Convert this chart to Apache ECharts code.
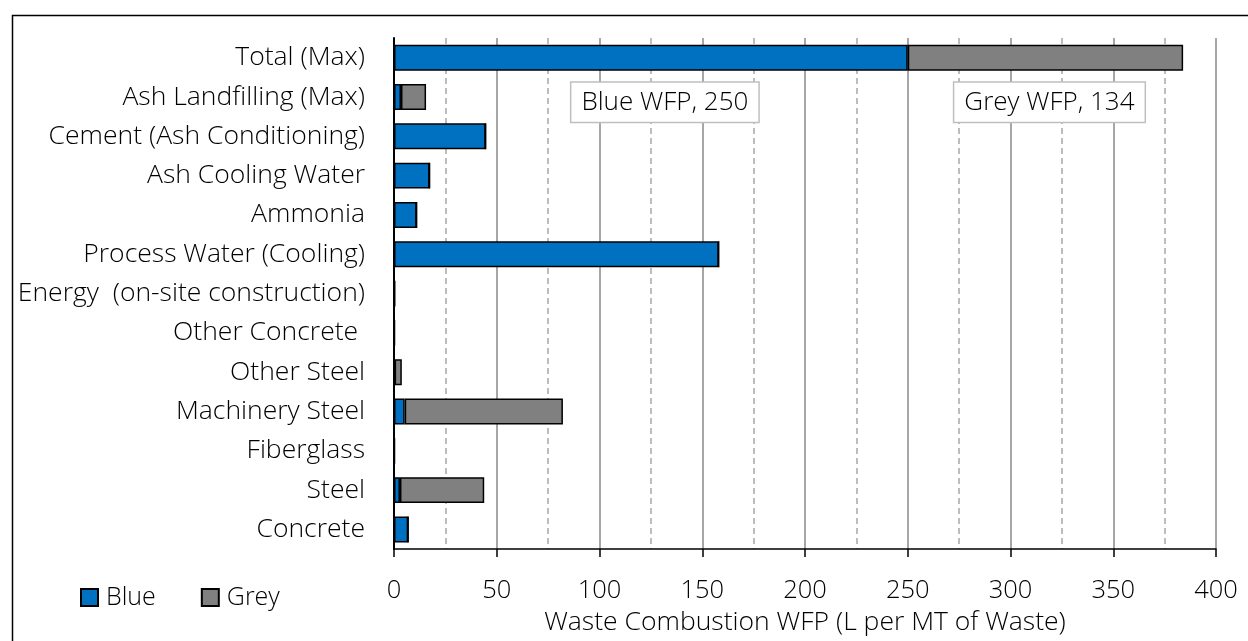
<!DOCTYPE html>
<html>
<head>
<meta charset="utf-8">
<script src="https://cdn.jsdelivr.net/npm/echarts@6/dist/echarts.min.js"></script>
<style>
html,body{margin:0;padding:0;background:#fff;}
#chart{width:1248px;height:641px;}
</style>
</head>
<body>
<div id="chart"></div>
<script>
const categories = ['Total (Max)', 'Ash Landfilling (Max)', 'Cement (Ash Conditioning)', 'Ash Cooling Water', 'Ammonia', 'Process Water (Cooling)', 'Energy  (on-site construction)', 'Other Concrete ', 'Other Steel', 'Machinery Steel', 'Fiberglass', 'Steel', 'Concrete'];
const blueValues = [250, 3.4, 44.6, 17.3, 11.0, 158, 0.3, 0.2, 0.3, 5.2, 0.2, 2.9, 6.9];
const greyValues = [134, 12.2, 0, 0, 0, 0, 0.1, 0.1, 3.5, 77, 0.1, 41, 0];
const seriesNames = ['Blue', 'Grey'];
const axisTitle = 'Waste Combustion WFP (L per MT of Waste)';

const FONT = 'Open Sans';
const chart = echarts.init(document.getElementById('chart'), null, {renderer: 'canvas'});

function withCallout(values, dx) {
  return values.map((v, i) => i === 0 ? {
    value: v,
    label: {
      show: true,
      position: 'bottom',
      distance: 12,
      offset: [dx, 0],
      formatter: '{a} WFP, {c}',
      color: '#000',
      fontFamily: FONT,
      fontWeight: 300,
      fontSize: 26,
      backgroundColor: '#fff',
      borderColor: '#bfbfbf',
      borderWidth: 1.5,
      padding: [7, 10, 6, 10]
    }
  } : v);
}

const option = {
  animation: false,
  backgroundColor: '#fff',
  textStyle: {fontFamily: FONT},
  graphic: [{
    type: 'rect', left: 10, top: 13, z: 100,
    shape: {width: 1400, height: 800},
    style: {fill: 'none', stroke: '#000', lineWidth: 1.5}
  }],
  grid: {left: 394, right: 32, top: 38, bottom: 88},
  legend: {
    left: 80, top: 585, padding: 0,
    itemWidth: 17, itemHeight: 17, itemGap: 45,
    icon: 'rect',
    textStyle: {fontFamily: FONT, fontWeight: 300, fontSize: 25, color: '#000', padding: [0, 0, 0, 3]},
    data: seriesNames
  },
  xAxis: {
    type: 'value', min: 0, max: 400, interval: 50,
    name: axisTitle, nameLocation: 'middle', nameGap: 54,
    nameTextStyle: {fontFamily: FONT, fontWeight: 300, fontSize: 26.5, color: '#000'},
    axisLine: {show: true, lineStyle: {color: '#000', width: 1.5}},
    axisTick: {show: true, length: 8, lineStyle: {color: '#000', width: 1.5}},
    axisLabel: {margin: 29, fontFamily: FONT, fontWeight: 300, fontSize: 25.5, color: '#000'},
    splitLine: {show: true, lineStyle: {color: '#a6a6a6', width: 2}},
    minorTick: {show: false, splitNumber: 2},
    minorSplitLine: {show: true, lineStyle: {color: '#a6a6a6', width: 1.5, type: [6, 4]}}
  },
  yAxis: {
    type: 'category', inverse: true, data: categories,
    axisLine: {show: true, lineStyle: {color: '#000', width: 2}},
    axisTick: {show: false},
    axisLabel: {margin: 29, fontFamily: FONT, fontWeight: 300, fontSize: 26.5, color: '#000'}
  },
  series: [
    {
      name: seriesNames[0], type: 'bar', stack: 'w', barWidth: '66%',
      itemStyle: {color: '#0070C0', borderColor: '#000', borderWidth: 1.5},
      data: withCallout(blueValues, 14)
    },
    {
      name: seriesNames[1], type: 'bar', stack: 'w', barWidth: '66%',
      itemStyle: {color: '#808080', borderColor: '#000', borderWidth: 1.5},
      data: withCallout(greyValues, 4)
    }
  ]
};
chart.setOption(option);
</script>
</body>
</html>
